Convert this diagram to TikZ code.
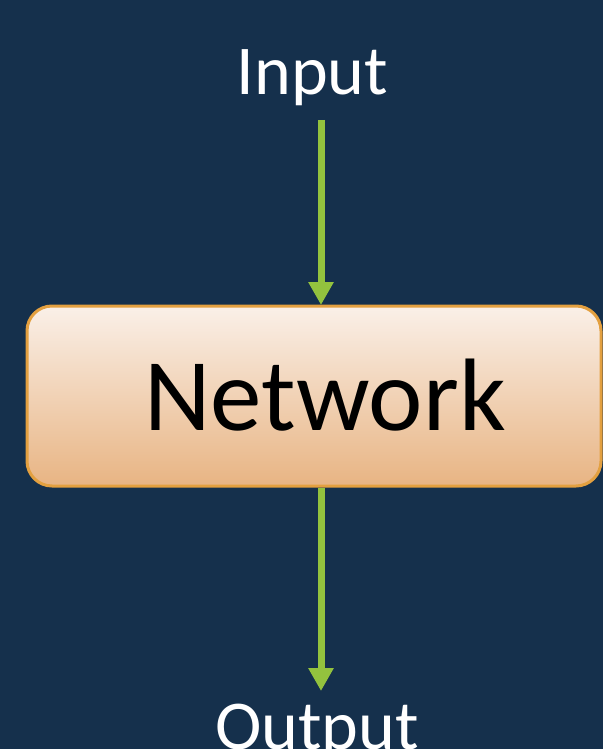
\documentclass[tikz,border=0pt]{standalone}
\usepackage{fontspec}
\setmainfont{Carlito}
\usetikzlibrary{arrows.meta}
\definecolor{bgblue}{HTML}{15304C}
\definecolor{arrowgreen}{HTML}{93C23E}
\definecolor{boxtop}{HTML}{FAF0E8}
\definecolor{boxbot}{HTML}{E8B483}
\definecolor{boxedge}{HTML}{E3A040}
\tikzset{
  lbl/.style={text=white, font=\fontsize{70}{84}\selectfont, anchor=base, inner sep=0pt},
  flow/.style={draw=arrowgreen, line width=7pt, -{Triangle[width=24pt,length=23pt]}},
  netbox/.style={draw=boxedge, line width=3pt, rounded corners=25pt, top color=boxtop, bottom color=boxbot, inner sep=0pt}
}
\begin{document}
\begin{tikzpicture}[x=1pt,y=-1pt]
\fill[bgblue] (0,0) rectangle (603,749);
\useasboundingbox (0,0) rectangle (603,749);
\node[netbox, minimum width=574pt, minimum height=180pt] (net) at (314,396) {};
\node[anchor=base, inner sep=0pt, font=\fontsize{103}{120}\selectfont] (nettext) at (325,430) {Network};
\node[lbl] (in) at (312.5,95) {Input};
\node[lbl] (out) at (317,749) {Output};
\coordinate (a1) at (321,120);
\coordinate (a2) at (321,305);
\coordinate (b1) at (321,488);
\coordinate (b2) at (321,691);
\draw[flow] (a1) -- (a2);
\draw[flow] (b1) -- (b2);
\end{tikzpicture}
\end{document}
